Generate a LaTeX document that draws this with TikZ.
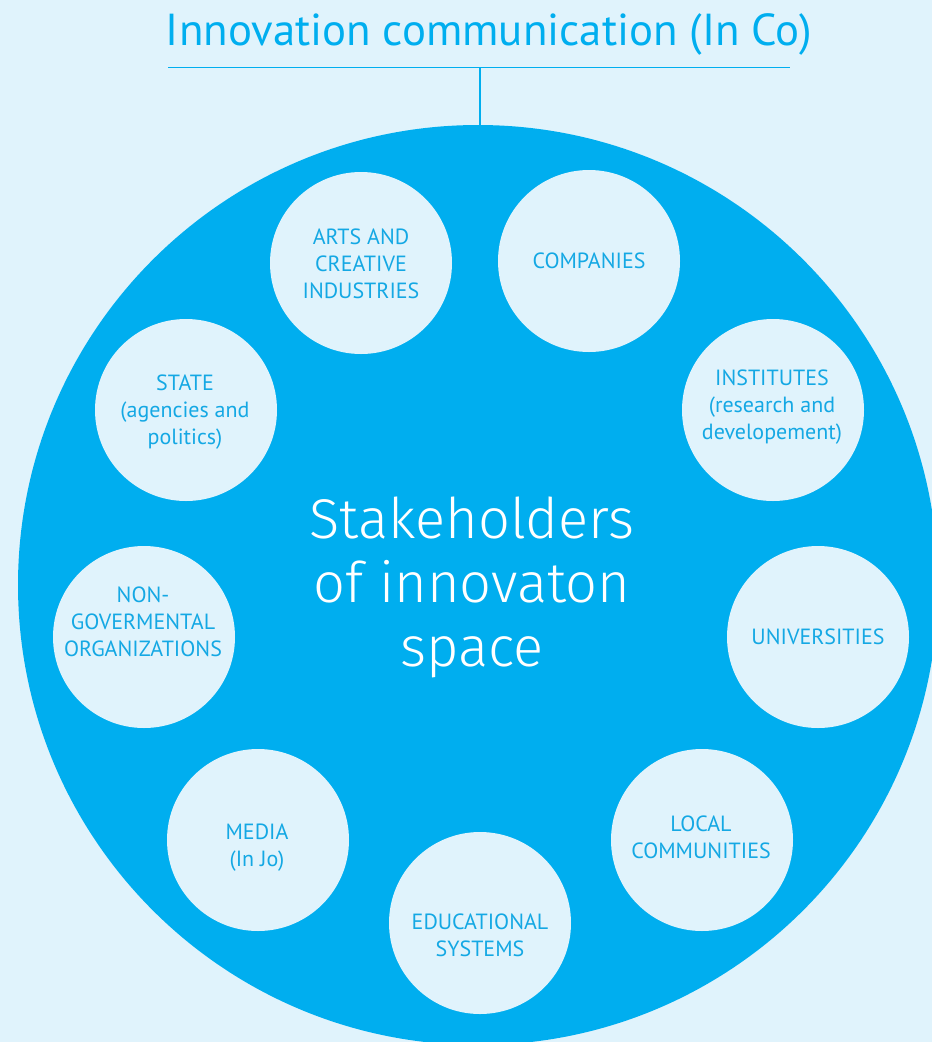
\documentclass[tikz,border=0pt]{standalone}
\usepackage{fontspec}
\setmainfont{PT Sans}
\newfontfamily\hubfont{Fira Sans Light}
\definecolor{paper}{RGB}{224,243,252}
\definecolor{spacefill}{RGB}{0,174,239}
\definecolor{ink}{RGB}{20,168,228}

\begin{document}
\begin{tikzpicture}[x=1pt,y=-1pt,
  actor/.style={circle, fill=paper, minimum size=182pt, inner sep=0pt},
  actorlabel/.style={text=ink, align=center, inner sep=0pt,
    font=\fontsize{22}{27}\selectfont},
  rule/.style={draw=spacefill, line width=1.6pt},
]
\useasboundingbox (0,0) rectangle (932,1042);
\clip (0,0) rectangle (932,1042);
\fill[paper] (0,0) rectangle (932,1042);

% title and its rule
\node[text=spacefill, anchor=base, inner sep=0pt,
  font=\fontsize{44.8}{52}\selectfont] (title) at (489,45)
  {Innovation communication (In Co)};
\coordinate (barL) at (168,67.5);
\coordinate (barR) at (790,67.5);
\coordinate (barM) at (480,67.5);

% the innovation space
\node[circle, fill=spacefill, minimum size=920pt, inner sep=0pt] (space) at (478,585) {};
\draw[rule] (barL) -- (barR);
\draw[rule] (barM) -- (barM |- space.north);

\node[text=white, align=center, inner sep=0pt,
  font=\hubfont\fontsize{56}{64}\selectfont] (hub) at (472,587)
  {Stakeholders\\of innovaton\\space};

% stakeholders
\node[actor] (arts)  at (361,263) {};
\node[actor] (comp)  at (589,261) {};
\node[actor] (inst)  at (773,410) {};
\node[actor] (univ)  at (818,637) {};
\node[actor] (local) at (702,840) {};
\node[actor] (edu)   at (480,923) {};
\node[actor] (media) at (258,840) {};
\node[actor] (ngo)   at (144,637) {};
\node[actor] (state) at (186,410) {};

\node[actorlabel] (artsT)  at (361,264) {ARTS AND\\CREATIVE\\INDUSTRIES};
\node[actorlabel] (compT)  at (589,261) {COMPANIES};
\node[actorlabel] (instT)  at (772,407) {INSTITUTES\\(research and\\developement)};
\node[actorlabel] (univT)  at (818,637) {UNIVERSITIES};
\node[actorlabel] (localT) at (701,837) {LOCAL\\COMMUNITIES};
\node[actorlabel] (eduT)   at (480,935) {EDUCATIONAL\\SYSTEMS};
\node[actorlabel] (mediaT) at (257,848) {MEDIA\\(In Jo)};
\node[actorlabel] (ngoT)   at (143,622) {NON-\\GOVERMENTAL\\ORGANIZATIONS};
\node[actorlabel] (stateT) at (185,412) {STATE\\(agencies and\\politics)};
\end{tikzpicture}
\end{document}
